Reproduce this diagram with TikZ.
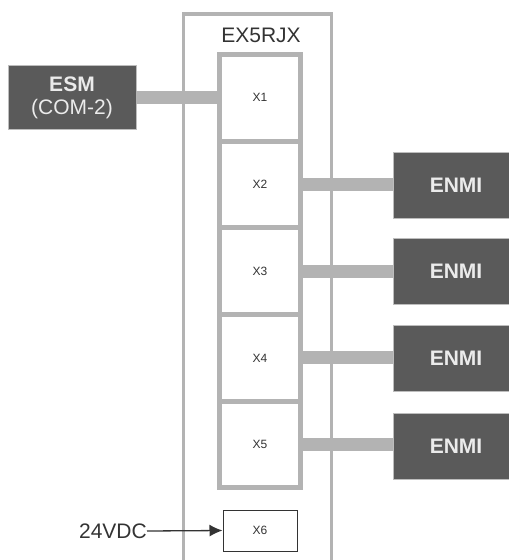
\documentclass[tikz,border=0pt]{standalone}
\usepackage{fontspec}
\setmainfont{Liberation Sans}
\usetikzlibrary{arrows.meta}
\definecolor{linegrey}{HTML}{B3B3B3}
\definecolor{boxdark}{HTML}{5A5A5A}
\definecolor{boxtext}{HTML}{EBEBEB}
\definecolor{inkdark}{HTML}{333333}
\tikzset{
  cell/.style={draw=linegrey, line width=5pt, fill=white, minimum width=81pt, minimum height=86.7pt, inner sep=0pt, font=\fontsize{12}{14}\selectfont, text=inkdark},
  darkbox/.style={fill=boxdark, draw=boxdark!40!white, line width=0.6pt, inner sep=0pt, text=boxtext, font=\fontsize{21}{24}\selectfont},
  bar/.style={draw=linegrey, line width=13pt},
  outerline/.style={draw=linegrey, line width=3.5pt},
  smallbox/.style={draw=inkdark, line width=1pt, fill=white, minimum width=74pt, minimum height=41pt, inner sep=0pt, font=\fontsize{12}{14}\selectfont, text=inkdark},
}
\begin{document}
\begin{tikzpicture}[x=1pt, y=-1pt]
\useasboundingbox (0,0) rectangle (509,560);
% outer box (open at the bottom)
\draw[outerline] (183.5,562) -- (183.5,14) -- (331.5,14) -- (331.5,562);
\node[text=inkdark, font=\fontsize{21}{24}\selectfont] (title) at (261,35) {EX5RJX};
% cells
\node[cell] (x1) at (260,97.8) {X1};
\node[cell] (x2) at (260,184.5) {X2};
\node[cell] (x3) at (260,271.2) {X3};
\node[cell] (x4) at (260,357.9) {X4};
\node[cell] (x5) at (260,444.6) {X5};
% external boxes
\node[darkbox, minimum width=128pt, minimum height=64pt, align=center] (esm) at (72,97.5) {\textbf{ESM}\\[-1pt](COM-2)};
\node[darkbox, minimum width=126pt, minimum height=66pt] (e2) at (456,185) {\textbf{ENMI}};
\node[darkbox, minimum width=126pt, minimum height=66pt] (e3) at (456,271.5) {\textbf{ENMI}};
\node[darkbox, minimum width=126pt, minimum height=66pt] (e4) at (456,358.5) {\textbf{ENMI}};
\node[darkbox, minimum width=126pt, minimum height=66pt] (e5) at (456,446.3) {\textbf{ENMI}};
% bars
\draw[bar] (esm.east |- x1.west) -- (x1.west);
\draw[bar] (x2.east) -- (x2.east -| e2.west);
\draw[bar] (x3.east) -- (x3.east -| e3.west);
\draw[bar] (x4.east) -- (x4.east -| e4.west);
\draw[bar] (x5.east) -- (x5.east -| e5.west);
% power input
\node[smallbox] (x6) at (260,530.5) {X6};
\node[text=inkdark, inner sep=0pt, font=\fontsize{21}{24}\selectfont, anchor=east] (v24) at (147,531) {24VDC};
\draw[inkdark, line width=1.3pt, -{Latex[length=13pt,width=12pt]}] (v24.east) -- (x6.west);
\end{tikzpicture}
\end{document}
